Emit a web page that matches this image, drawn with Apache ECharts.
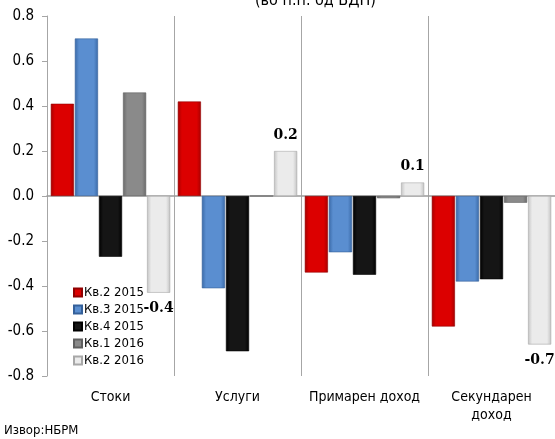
<!DOCTYPE html>
<html>
<head>
<meta charset="utf-8">
<script src="https://cdn.jsdelivr.net/npm/echarts@6/dist/echarts.min.js"></script>
<style>
  html, body { margin: 0; padding: 0; background: #fff; }
  #chart { width: 555px; height: 439px; }
</style>
</head>
<body>
<div id="chart"></div>
<script>
// Current account components, change in p.p. of GDP
const categories = ['Стоки', 'Услуги', 'Примарен доход', 'Секундарен\nдоход'];
const seriesNames = ['Кв.2 2015', 'Кв.3 2015', 'Кв.4 2015', 'Кв.1 2016', 'Кв.2 2016'];
const q2_2015 = [0.41, 0.42, -0.34, -0.58];
const q3_2015 = [0.70, -0.41, -0.25, -0.38];
const q4_2015 = [-0.27, -0.69, -0.35, -0.37];
const q1_2016 = [0.46, 0.00, -0.01, -0.03];
const q2_2016 = [-0.43, 0.20, 0.06, -0.66];
const yTicks = { min: -0.8, max: 0.8, step: 0.2 };

const FONT = 'Tahoma, "DejaVu Sans Condensed", "Open Sans", sans-serif';

function bevel(edge, mid) {
  return {
    type: 'linear', x: 0, y: 0, x2: 1, y2: 0,
    colorStops: [
      { offset: 0, color: edge },
      { offset: 0.18, color: mid },
      { offset: 0.82, color: mid },
      { offset: 1, color: edge }
    ]
  };
}

const styles = [
  { color: bevel('#a80000', '#dc0000'), border: '#900000' },
  { color: bevel('#3a6aa8', '#5a8ed0'), border: '#34609a' },
  { color: bevel('#000000', '#151515'), border: '#000000' },
  { color: bevel('#6a6a6a', '#8a8a8a'), border: '#606060' },
  { color: bevel('#c4c4c4', '#ebebeb'), border: '#a8a8a8' }
];

const dataSets = [q2_2015, q3_2015, q4_2015, q1_2016, q2_2016];

const series = dataSets.map((arr, i) => {
  const labelled = i === 4;
  return {
    name: seriesNames[i],
    type: 'bar',
    xAxisIndex: 0,
    barGap: '4%',
    barCategoryGap: '6%',
    itemStyle: { color: styles[i].color, borderColor: styles[i].border, borderWidth: 0.6 },
    data: arr.map(v => ({
      value: v,
      label: labelled ? {
        show: true,
        position: v >= 0 ? 'top' : 'bottom',
        distance: 9,
        formatter: p => Number(p.value).toFixed(1),
        fontFamily: '"DejaVu Serif", serif',
        fontWeight: 'bold',
        fontSize: 14,
        color: '#000'
      } : { show: false }
    })),
    emphasis: { disabled: true }
  };
});

const chart = echarts.init(document.getElementById('chart'), null, { renderer: 'canvas' });
chart.setOption({
  animation: false,
  backgroundColor: '#fff',
  title: {
    text: '(во п.п. од БДП)',
    left: 250,
    top: -12,
    textStyle: { fontFamily: FONT, fontSize: 16, fontWeight: 'normal', color: '#000' }
  },
  grid: { left: 47, right: 0, top: 16, bottom: 63, containLabel: false },
  legend: {
    orient: 'vertical',
    left: 68,
    top: 281,
    itemWidth: 8,
    itemHeight: 8,
    itemGap: 4,
    icon: 'rect',
    data: seriesNames,
    textStyle: { fontFamily: FONT, fontSize: 13, color: '#000', padding: [0, 0, 0, -3] }
  },
  xAxis: [
    {
      type: 'category',
      data: categories,
      position: 'bottom',
      axisLine: { show: false, onZero: false },
      axisTick: { show: false },
      splitLine: { show: true, interval: 0, lineStyle: { color: '#a6a6a6', width: 1 } },
      axisLabel: { interval: 0, margin: 12, fontFamily: FONT, fontSize: 14, color: '#000', lineHeight: 18 }
    },
    {
      type: 'category',
      data: categories,
      position: 'bottom',
      axisLine: { show: true, onZero: true, lineStyle: { color: '#9a9a9a', width: 1.5 } },
      axisTick: { show: false },
      axisLabel: { show: false },
      splitLine: { show: false }
    }
  ],
  yAxis: {
    type: 'value',
    min: yTicks.min,
    max: yTicks.max,
    interval: yTicks.step,
    axisLine: { show: true, lineStyle: { color: '#a6a6a6', width: 1 } },
    axisTick: { show: true, length: 5, lineStyle: { color: '#a6a6a6' } },
    splitLine: { show: false },
    axisLabel: {
      margin: 13,
      fontFamily: FONT,
      fontSize: 15,
      color: '#000',
      formatter: v => v.toFixed(1)
    }
  },
  graphic: [
    {
      type: 'text',
      left: 4,
      top: 424,
      style: { text: 'Извор:НБРМ', font: '13px ' + FONT, fill: '#000' }
    }
  ],
  series: series
});
</script>
</body>
</html>
